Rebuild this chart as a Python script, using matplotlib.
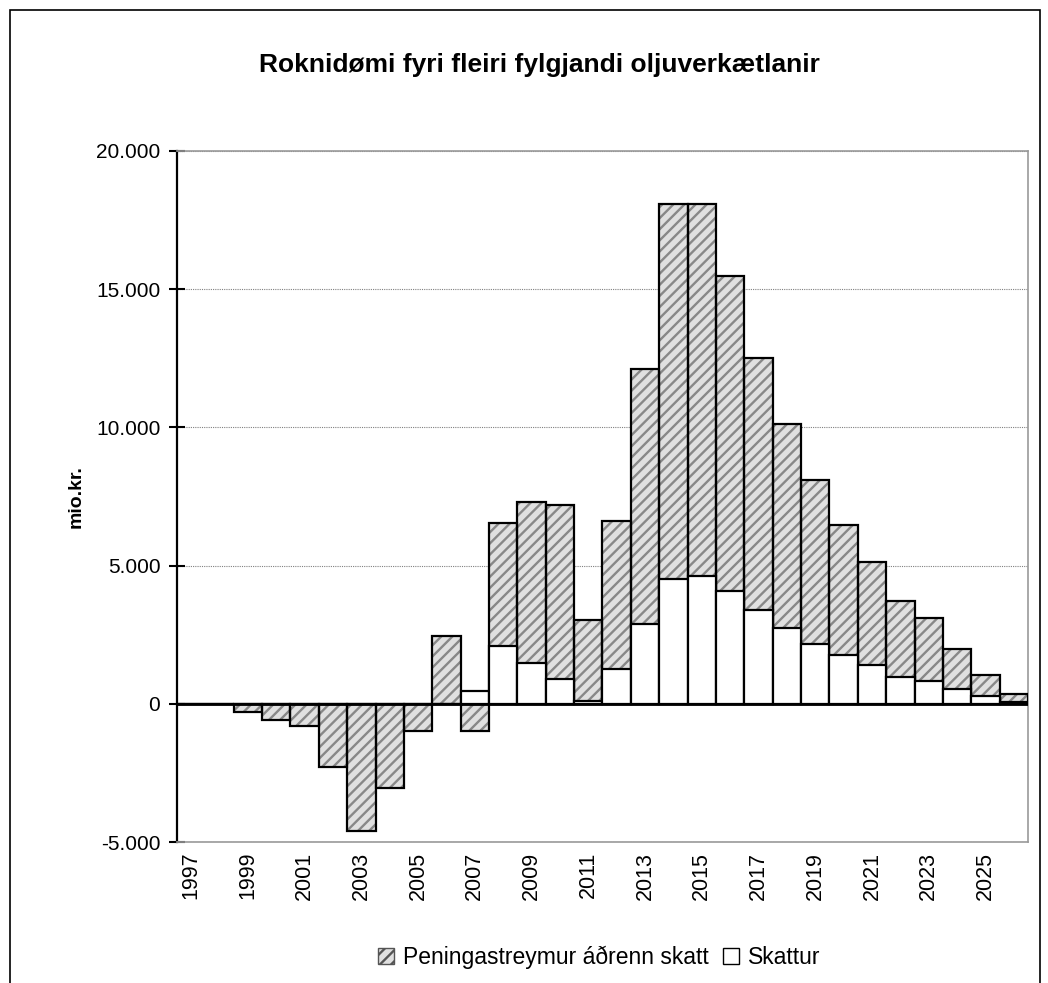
import matplotlib.pyplot as plt
from matplotlib.patches import Patch, Rectangle
from matplotlib.ticker import FuncFormatter

plt.rcParams['font.family'] = ['Liberation Sans', 'DejaVu Sans']
plt.rcParams['hatch.linewidth'] = 1.7

# Data (mio. kr.)
years = list(range(1997, 2027))
peningastreymur = [0, 0, -300, -590, -810, -2280, -4600, -3050, -1000, 2440,
                   -1000, 6540, 7300, 7180, 3020, 6610, 12100, 18100, 18100, 15480,
                   12500, 10130, 8100, 6460, 5130, 3720, 3090, 1970, 1040, 340]
skattur = [0, 0, 0, 0, 0, 0, 0, 0, 0, 0,
           470, 2100, 1470, 890, 120, 1250, 2870, 4500, 4620, 4080,
           3380, 2730, 2170, 1750, 1390, 980, 830, 540, 275, 80]
year_labels = [str(y) if (y - 1997) % 2 == 0 else '' for y in years]

fig = plt.figure(figsize=(10.48, 9.83), dpi=100)
ax = fig.add_axes([0.1689, 0.1434, 0.812, 0.703])

x = list(range(len(years)))

# hatched bars: fill + hatch first, black outline on top
ax.bar(x, peningastreymur, width=1.0, facecolor='#e0e0e0', edgecolor='#888888',
       hatch='///', linewidth=0, zorder=2)
ax.bar(x, peningastreymur, width=1.0, fill=False, edgecolor='black',
       linewidth=1.6, zorder=3)
# white bars drawn over them
ax.bar(x, skattur, width=1.0, facecolor='white', edgecolor='black',
       linewidth=1.6, zorder=4)

ax.axhline(0, color='black', linewidth=2, zorder=5)

ax.set_xlim(-0.5, len(years) - 0.5)
ax.set_ylim(-5000, 20000)
ax.set_yticks(range(-5000, 20001, 5000))
ax.yaxis.set_major_formatter(FuncFormatter(lambda v, p: f'{int(v):,}'.replace(',', '.')))
ax.yaxis.grid(True, linestyle=(0, (1, 1)), color='#808080', linewidth=0.8, zorder=0)
ax.set_axisbelow(True)

ax.set_xticks(x)
ax.set_xticklabels(year_labels, rotation=90, fontsize=15.5)
ax.tick_params(axis='x', length=0, pad=7)
ax.tick_params(axis='y', direction='inout', length=12, width=1.5, labelsize=15, pad=6)

for s in ['top', 'right', 'bottom']:
    ax.spines[s].set_color('#999999')
    ax.spines[s].set_linewidth(1.2)
ax.spines['left'].set_linewidth(1.6)

ax.set_ylabel('mio.kr.', fontsize=14, fontweight='bold', labelpad=8)
fig.text(0.515, 0.934, 'Roknidømi fyri fleiri fylgjandi oljuverkætlanir',
         ha='center', va='center', fontsize=19, fontweight='bold')

handles = [Patch(facecolor='#e0e0e0', edgecolor='#555555', hatch='///', linewidth=1),
           Patch(facecolor='white', edgecolor='black', linewidth=1)]
fig.legend(handles, ['Peningastreymur áðrenn skatt', 'Skattur'],
           loc='center', bbox_to_anchor=(0.572, 0.026), ncol=2, frameon=False,
           fontsize=16.5, handlelength=0.7, handleheight=0.7, handletextpad=0.4,
           columnspacing=0.6)

# outer chart border
fig.patches.append(Rectangle((10 / 1048, -0.05), 1030 / 1048, 1 - 10 / 983 + 0.05,
                             transform=fig.transFigure, fill=False,
                             edgecolor='black', linewidth=1.2))

fig.savefig('out.png', dpi=100)
